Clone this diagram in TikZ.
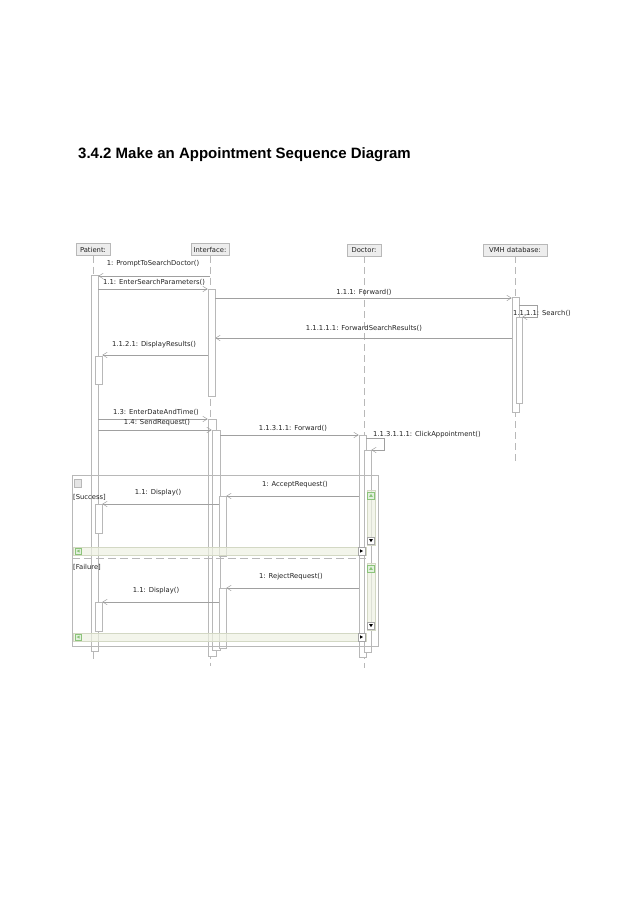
\documentclass[tikz,border=0pt]{standalone}
\usepackage{fontspec}
\setmainfont{DejaVu Sans}
\newfontfamily\titlefont{Liberation Sans}
\usetikzlibrary{arrows.meta, fit, positioning}

\definecolor{linegray}{HTML}{B8B8B8}
\definecolor{msggray}{HTML}{A0A0A0}
\definecolor{headfill}{HTML}{EDEDED}
\definecolor{textgray}{HTML}{222222}
\definecolor{scrollfill}{HTML}{EEF1E2}
\definecolor{scrollline}{HTML}{D3D8C4}
\definecolor{btngreen}{HTML}{8CC47A}

\tikzset{
  head/.style={draw=linegray, fill=headfill, minimum height=12pt, inner sep=1pt,
    font=\fontsize{6.8}{8}\selectfont, text=textgray},
  lifeline/.style={draw=linegray, dash pattern=on 7pt off 4pt, line width=0.5pt},
  actbar/.style={draw=linegray, fill=white, inner sep=0pt, line width=0.5pt},
  msg/.style={draw=msggray, line width=0.5pt, -{Straight Barb[length=4.5pt,width=5.5pt]}},
  lbl/.style={font=\fontsize{6.8}{8}\selectfont, text=textgray, inner sep=0pt},
  hscroll/.style={draw=scrollline, fill=scrollfill, fill opacity=0.7, line width=0.4pt},
  upbtn/.style={draw=btngreen, fill=btngreen!25, line width=0.4pt},
  dnbtn/.style={draw=gray!70, fill=white, line width=0.4pt}
}

\begin{document}
\begin{tikzpicture}[x=1pt, y=-1pt]
    \useasboundingbox (0,0) rectangle (638,903);

    % 1. Title
    \node[anchor=base west, inner sep=0pt, font=\titlefont\fontsize{15}{18}\selectfont\bfseries]
        (title) at (78,158) {3.4.2 Make an Appointment Sequence Diagram};

    % 2. Lifeline heads and lifelines
    \node[head, minimum width=34pt] (p) at (93,249.5) {Patient:};
    \node[head, minimum width=38pt] (i) at (210,249.5) {Interface:};
    \node[head, minimum width=34pt] (d) at (364,250) {Doctor:};
    \node[head, minimum width=64pt] (v) at (515,250) {VMH database:};
    \draw[lifeline] (p.south) -- (p.south |- 0,662);
    \draw[lifeline] (i.south) -- (i.south |- 0,666);
    \draw[lifeline] (d.south) -- (d.south |- 0,668);
    \draw[lifeline] (v.south) -- (v.south |- 0,465);

    % 3. Activation bars
    \node[actbar, fit={(91,275) (98,651)}] (pb1) {};
    \node[actbar, fit={(95,356) (102,384)}] (pb2) {};
    \node[actbar, fit={(95,504) (102,533)}] (pb3) {};
    \node[actbar, fit={(95,602) (102,631)}] (pb4) {};
    \node[actbar, fit={(208,289) (215,396)}] (ib1) {};
    \node[actbar, fit={(208,419) (216,656)}] (ib2) {};
    \node[actbar, fit={(212,430) (220,650)}] (ib3) {};
    \node[actbar, fit={(219,496) (226,556)}] (ib4) {};
    \node[actbar, fit={(219,588) (226,648)}] (ib5) {};
    \node[actbar, fit={(359,435) (366,657)}] (db1) {};
    \node[actbar, fit={(364,450) (371,652)}] (db2) {};
    \node[actbar, fit={(512,297) (519,412)}] (vb1) {};
    \node[actbar, fit={(516,317) (522,403)}] (vb2) {};

    % 4. Combined fragment with its scroll bars
    \draw[linegray, line width=0.5pt] (72,475) rectangle (378,646);
    \draw[linegray, fill=gray!20, line width=0.4pt] (74,479) rectangle (81,487);
    \draw[linegray, dash pattern=on 8pt off 4pt, line width=0.6pt] (72,558) -- (366,558);
    \node[lbl, anchor=west] (succ) at (73,497) {[Success]};
    \node[lbl, anchor=west] (fail) at (73,567) {[Failure]};
    \foreach \ya/\yb/\vt/\vb in {547/555/490/545, 633/641/563/630} {
        \draw[hscroll] (73,\ya) rectangle (366,\yb);
        \draw[hscroll] (367,\vt) rectangle (375,\vb);
        \draw[upbtn] (75,\ya+1) rectangle (81,\yb-1);
        \fill[btngreen] (76.5,\ya+4) -- (79.5,\ya+2.5) -- (79.5,\ya+5.5) -- cycle;
        \draw[dnbtn] (358,\ya) rectangle (365,\yb);
        \fill[black] (363,\ya+4) -- (360,\ya+2.3) -- (360,\ya+5.7) -- cycle;
        \draw[upbtn] (367.5,\vt+2) rectangle (374.5,\vt+9);
        \fill[btngreen] (371,\vt+3.8) -- (369.2,\vt+6.8) -- (372.8,\vt+6.8) -- cycle;
        \draw[dnbtn] (367.5,\vb-8) rectangle (374.5,\vb-1);
        \fill[black] (371,\vb-2.8) -- (369.2,\vb-5.8) -- (372.8,\vb-5.8) -- cycle;
    }

    % 5. Messages
    \coordinate (vloop) at (537,317);
    \coordinate (dloop) at (384,450);
    \draw[msg] (i.center |- 0,276) -- (pb1.east |- 0,276);
    \draw[msg] (pb1.east |- 0,289) -- (ib1.west |- 0,289);
    \draw[msg] (ib1.east |- 0,298) -- (vb1.west |- 0,298);
    \draw[msg] (vb1.east |- 0,305) -| (vloop) -- (vb2.east |- vloop);
    \draw[msg] (vb1.west |- 0,338) -- (ib1.east |- 0,338);
    \draw[msg] (ib1.west |- 0,355) -- (pb2.east |- 0,355);
    \draw[msg] (pb1.east |- 0,419) -- (ib2.west |- 0,419);
    \draw[msg] (pb1.east |- 0,430) -- (ib3.west |- 0,430);
    \draw[msg] (ib3.east |- 0,435) -- (db1.west |- 0,435);
    \draw[msg] (db1.east |- 0,438) -| (dloop) -- (db2.east |- dloop);
    \draw[msg] (db1.west |- 0,496) -- (ib4.east |- 0,496);
    \draw[msg] (ib4.west |- 0,504) -- (pb3.east |- 0,504);
    \draw[msg] (db1.west |- 0,588) -- (ib5.east |- 0,588);
    \draw[msg] (ib5.west |- 0,602) -- (pb4.east |- 0,602);

    % 6. Message labels
    \node[lbl] (l1) at (153,264) {1: PromptToSearchDoctor()};
    \node[lbl] (l2) at (154,282) {1.1: EnterSearchParameters()};
    \node[lbl] (l3) at (364,292) {1.1.1: Forward()};
    \node[lbl, anchor=west] (l4) at (513,313) {1.1.1.1: Search()};
    \node[lbl] (l5) at (364,328) {1.1.1.1.1: ForwardSearchResults()};
    \node[lbl] (l6) at (154,345) {1.1.2.1: DisplayResults()};
    \node[lbl] (l7) at (156,412) {1.3: EnterDateAndTime()};
    \node[lbl] (l8) at (157,423) {1.4: SendRequest()};
    \node[lbl] (l9) at (293,428) {1.1.3.1.1: Forward()};
    \node[lbl, anchor=west] (l10) at (373,435) {1.1.3.1.1.1: ClickAppointment()};
    \node[lbl] (l11) at (295,485) {1: AcceptRequest()};
    \node[lbl] (l12) at (158,493) {1.1: Display()};
    \node[lbl] (l13) at (291,577) {1: RejectRequest()};
    \node[lbl] (l14) at (156,591) {1.1: Display()};
\end{tikzpicture}
\end{document}
